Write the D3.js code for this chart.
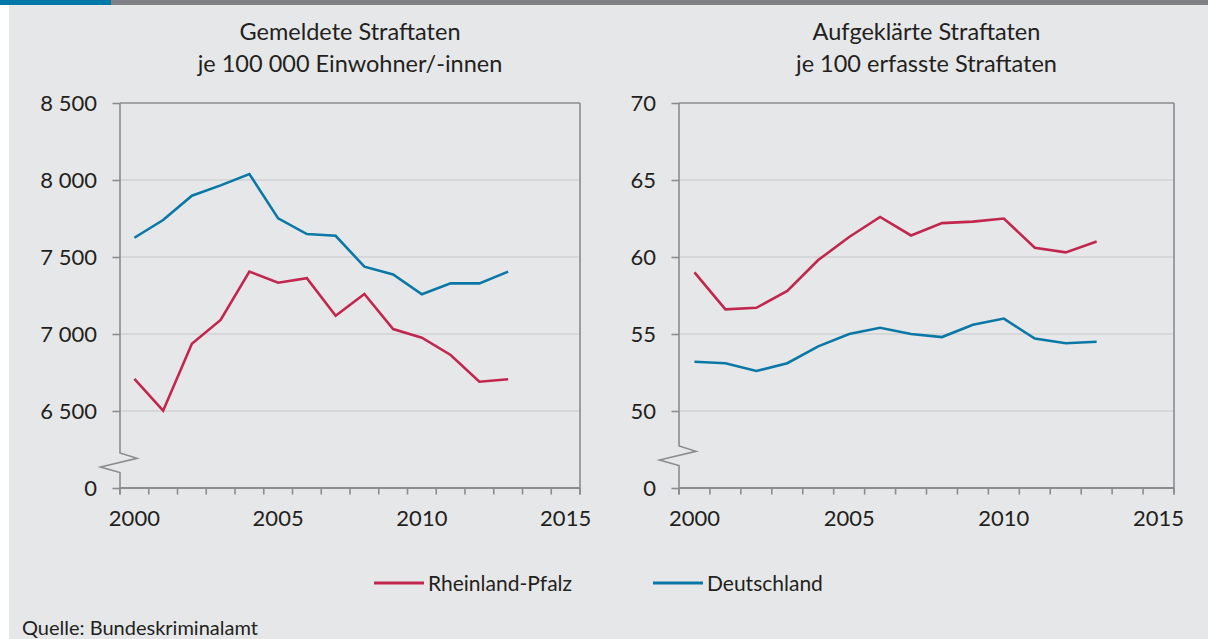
<!DOCTYPE html>
<html>
<head>
<meta charset="utf-8">
<script src="https://cdn.jsdelivr.net/npm/d3@7"></script>
<style>
  html, body { margin: 0; padding: 0; background: #ffffff; }
  svg { display: block; }
</style>
</head>
<body>
<svg id="chart" width="1208" height="639"></svg>
<script>
// ---- data ----------------------------------------------------------------
const years = [2000, 2001, 2002, 2003, 2004, 2005, 2006, 2007, 2008, 2009, 2010, 2011, 2012, 2013];
const axisYears = [2000, 2001, 2002, 2003, 2004, 2005, 2006, 2007, 2008, 2009, 2010, 2011, 2012, 2013, 2014, 2015];
const yearLabels = [2000, 2005, 2010, 2015];

// Gemeldete Straftaten je 100 000 Einwohner/-innen
const reportedRLP = [6708, 6502, 6937, 7091, 7405, 7333, 7362, 7119, 7260, 7032, 6976, 6864, 6690, 6706];
const reportedDE  = [7625, 7740, 7898, 7965, 8039, 7751, 7649, 7638, 7437, 7387, 7258, 7329, 7329, 7405];

// Aufgeklärte Straftaten je 100 erfasste Straftaten
const clearedRLP = [59.0, 56.6, 56.7, 57.8, 59.8, 61.3, 62.6, 61.4, 62.2, 62.3, 62.5, 60.6, 60.3, 61.0];
const clearedDE  = [53.2, 53.1, 52.6, 53.1, 54.2, 55.0, 55.4, 55.0, 54.8, 55.6, 56.0, 54.7, 54.4, 54.5];

const reportedTicks = [0, 6500, 7000, 7500, 8000, 8500];
const clearedTicks  = [0, 50, 55, 60, 65, 70];

const seriesNames = ["Rheinland-Pfalz", "Deutschland"];
const sourceText = "Quelle: Bundeskriminalamt";

// ---- style -----------------------------------------------------------------
const FONT = "Lato, 'Open Sans', 'Noto Sans', sans-serif";
const TEXT = "#231f20";
const BG = "#e6e7e8";
const FRAME = "#8b8c8e";
const GRID = "#d1d2d4";
const RED = "#c1264f";
const BLUE = "#0a78a6";

const de = d3.formatLocale({ decimal: ",", thousands: " ", grouping: [3], currency: ["", " €"] });
const fmtThousands = de.format(",");

const svg = d3.select("#chart");

// page background and the coloured strip along the top edge
svg.append("rect").attr("x", 9).attr("y", 5).attr("width", 1199).attr("height", 634).attr("fill", BG);
svg.append("rect").attr("x", 0).attr("y", 0).attr("width", 111).attr("height", 5).attr("fill", "#0079a9");
svg.append("rect").attr("x", 111).attr("y", 0).attr("width", 1097).attr("height", 5).attr("fill", "#7f8084");

function drawPanel(cfg) {
  const { left, right, top, bottom, lowValue, highValue, ticks, format, breakTop, title, series } = cfg;
  const g = svg.append("g");

  // the axis is broken: everything between 0 and lowValue collapses onto the baseline
  const y = d3.scaleLinear().domain([0, lowValue, highValue]).range([bottom, bottom, top]);
  const x = d3.scaleBand().domain(axisYears).range([left, right]).paddingInner(0).paddingOuter(0);

  // title
  const t = g.append("text")
    .attr("x", (left + right) / 2).attr("y", 40)
    .attr("text-anchor", "middle")
    .attr("font-family", FONT).attr("font-size", 23.5).attr("fill", TEXT);
  t.selectAll("tspan").data(title).join("tspan")
    .attr("x", (left + right) / 2)
    .attr("dy", (d, i) => i === 0 ? 0 : 31.5)
    .text(d => d);

  // horizontal grid
  g.append("g").selectAll("line")
    .data(ticks.filter(v => v !== 0 && v !== highValue))
    .join("line")
    .attr("x1", left).attr("x2", right)
    .attr("y1", d => y(d)).attr("y2", d => y(d))
    .attr("stroke", GRID).attr("stroke-width", 1.3);

  // y axis ticks and labels
  const gy = g.append("g")
    .attr("transform", `translate(${left},0)`)
    .call(d3.axisLeft(y).tickValues(ticks).tickSize(7.5).tickPadding(15.5).tickFormat(format));
  gy.select(".domain").remove();
  gy.attr("font-family", FONT).attr("font-size", 22);
  gy.selectAll(".tick line").attr("stroke", FRAME).attr("stroke-width", 1.6);
  gy.selectAll(".tick text").attr("fill", TEXT).attr("dy", "0.34em");

  // x axis: ticks at band boundaries, labels in the middle of the band
  const bounds = axisYears.map(d => x(d)).concat([x.range()[1]]);
  g.append("g").selectAll("line").data(bounds).join("line")
    .attr("x1", d => d).attr("x2", d => d)
    .attr("y1", bottom).attr("y2", bottom + 6.5)
    .attr("stroke", FRAME).attr("stroke-width", 1.6);

  const gx = g.append("g")
    .attr("transform", `translate(0,${bottom})`)
    .call(d3.axisBottom(x).tickValues(yearLabels).tickSize(0).tickPadding(0));
  gx.select(".domain").remove();
  gx.attr("font-family", FONT).attr("font-size", 22);
  gx.selectAll(".tick text").attr("fill", TEXT).attr("y", 38).attr("dy", 0);

  // frame: top, right, baseline and the broken left axis
  const frame = g.append("g").attr("fill", "none").attr("stroke", FRAME);
  frame.append("line").attr("x1", left).attr("x2", right).attr("y1", top).attr("y2", top).attr("stroke-width", 1.6);
  frame.append("line").attr("x1", right).attr("x2", right).attr("y1", top).attr("y2", bottom + 6.5).attr("stroke-width", 1.6);
  frame.append("line").attr("x1", left).attr("x2", right).attr("y1", bottom).attr("y2", bottom).attr("stroke-width", 2.2);
  frame.append("path")
    .attr("stroke-width", 1.6)
    .attr("d", d3.line()([
      [left, top], [left, breakTop],
      [left + 17, breakTop + 5.3],
      [left - 19.5, breakTop + 14],
      [left, breakTop + 19.5],
      [left, bottom + 6.5]
    ]));

  // data lines
  const line = d3.line()
    .x((d, i) => x(years[i]) + x.bandwidth() / 2)
    .y(d => y(d));
  g.append("g").selectAll("path").data(series).join("path")
    .attr("d", s => line(s.values))
    .attr("fill", "none")
    .attr("stroke", s => s.color)
    .attr("stroke-width", 2.6);
}

drawPanel({
  left: 120, right: 580, top: 103, bottom: 488,
  lowValue: 6000, highValue: 8500,
  ticks: reportedTicks, format: fmtThousands,
  breakTop: 453,
  title: ["Gemeldete Straftaten", "je 100 000 Einwohner/-innen"],
  series: [
    { name: seriesNames[0], color: RED, values: reportedRLP },
    { name: seriesNames[1], color: BLUE, values: reportedDE }
  ]
});

drawPanel({
  left: 679, right: 1174, top: 103, bottom: 488,
  lowValue: 45, highValue: 70,
  ticks: clearedTicks, format: d3.format("d"),
  breakTop: 446,
  title: ["Aufgeklärte Straftaten", "je 100 erfasste Straftaten"],
  series: [
    { name: seriesNames[0], color: RED, values: clearedRLP },
    { name: seriesNames[1], color: BLUE, values: clearedDE }
  ]
});

// legend
const legendItems = [
  { name: seriesNames[0], color: RED, x: 374 },
  { name: seriesNames[1], color: BLUE, x: 653 }
];
const lg = svg.append("g").selectAll("g").data(legendItems).join("g")
  .attr("transform", d => `translate(${d.x},583)`);
lg.append("line").attr("x1", 0).attr("x2", 50).attr("y1", 0).attr("y2", 0)
  .attr("stroke", d => d.color).attr("stroke-width", 3);
lg.append("text").attr("x", 54).attr("y", 8)
  .attr("font-family", FONT).attr("font-size", 21).attr("fill", TEXT)
  .text(d => d.name);

// source note
svg.append("text").attr("x", 22).attr("y", 635)
  .attr("font-family", FONT).attr("font-size", 20).attr("fill", TEXT)
  .text(sourceText);
</script>
</body>
</html>
